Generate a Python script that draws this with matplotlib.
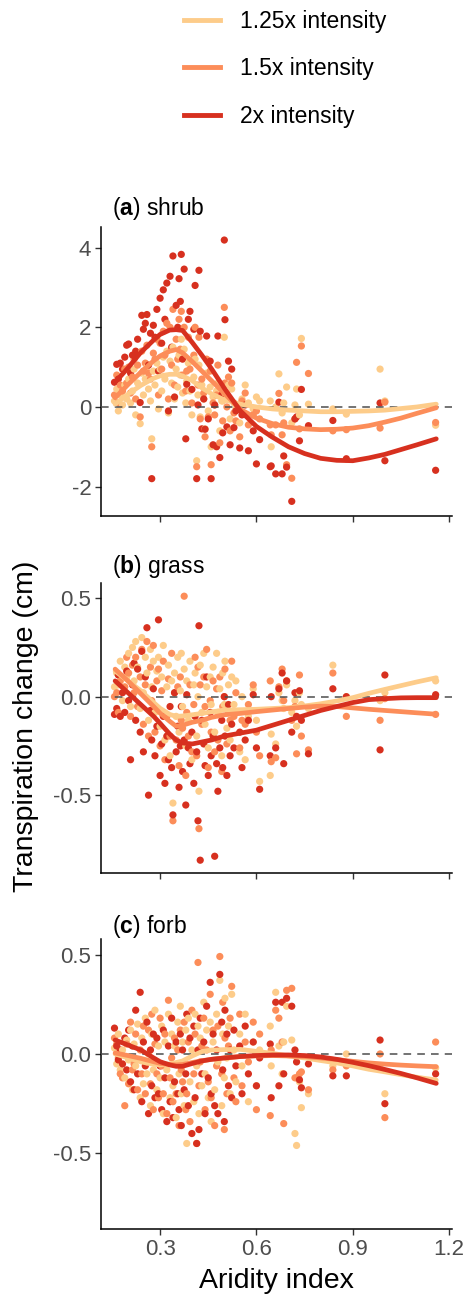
import numpy as np
import matplotlib
matplotlib.use("Agg")
import matplotlib.pyplot as plt
from matplotlib.lines import Line2D

plt.rcParams["font.family"] = "Liberation Sans"
plt.rcParams["mathtext.fontset"] = "custom"
plt.rcParams["mathtext.rm"] = "Liberation Sans"
plt.rcParams["mathtext.bf"] = "Liberation Sans:bold"

intensity_labels = ["1.25x intensity", "1.5x intensity", "2x intensity"]
intensity_colors = ["#FDCC8A", "#FC8D59", "#D7301F"]

# aridity index of each site (same sites in every panel)
site_ai = [
    0.158, 0.165, 0.170, 0.176, 0.183, 0.190, 0.196, 0.202, 0.208, 0.214,
    0.219, 0.224, 0.230, 0.238, 0.243, 0.248, 0.254, 0.259, 0.264, 0.270,
    0.274, 0.279, 0.284, 0.290, 0.295, 0.300, 0.305, 0.310, 0.315, 0.321,
    0.326, 0.331, 0.336, 0.340, 0.345, 0.350, 0.355, 0.359, 0.363, 0.366,
    0.370, 0.375, 0.380, 0.383, 0.388, 0.393, 0.399, 0.405, 0.409, 0.414,
    0.418, 0.421, 0.425, 0.430, 0.436, 0.440, 0.445, 0.450, 0.456, 0.459,
    0.465, 0.470, 0.476, 0.480, 0.486, 0.492, 0.495, 0.500, 0.502, 0.508,
    0.513, 0.518, 0.523, 0.530, 0.536, 0.548, 0.555, 0.565, 0.575, 0.590,
    0.600, 0.610, 0.643, 0.646, 0.660, 0.670, 0.680, 0.685, 0.694, 0.710,
    0.720, 0.725, 0.734, 0.740, 0.762, 0.838, 0.880, 0.985, 1.000, 1.158,
]

# transpiration change (cm), shrub
shrub_125 = [
    0.15, 0.45, -0.10, 0.30, 0.05, 0.55, 0.20, 0.70, 0.10, 0.40,
    0.95, -0.20, 0.60, -0.42, 0.85, 0.30, 0.70, 1.00, 0.45, 0.15,
    -0.80, 0.90, 0.55, 1.10, -0.05, 0.95, 0.40, 1.25, 0.70, 1.40,
    -0.15, 1.15, 0.60, 1.50, 0.20, 0.95, 0.50, 1.30, 0.80, 1.70,
    0.35, 1.45, 0.10, 0.65, 1.10, 0.40, -0.20, 0.75, 1.20, -1.35,
    0.30, 1.05, -0.25, 0.55, 0.20, -0.55, 0.85, -0.10, 0.50, -1.00,
    0.25, 0.05, 0.40, 0.60, -0.60, 0.15, 0.15, 1.75, 0.35, 0.20,
    0.55, -0.30, 0.45, 0.10, -0.05, -0.40, 0.20, 0.55, 0.10, -0.05,
    0.25, 0.15, 0.15, -1.00, 0.00, 0.83, -0.15, 0.10, 0.50, -0.40,
    0.05, 0.45, -0.20, 1.72, 0.07, -0.05, -0.18, 0.95, 0.15, -0.46,
]
shrub_15 = [
    0.30, 0.80, 0.10, 0.55, 0.40, 0.95, 0.60, 1.00, 0.35, 0.75,
    1.20, 0.20, 1.05, -0.25, 1.40, 0.90, 1.10, 1.55, 0.85, 0.70,
    -1.00, 1.35, 1.20, 1.70, 0.30, 1.60, 0.95, 1.90, 1.30, 2.10,
    0.20, 2.00, 1.05, 2.45, 0.55, 1.70, 1.20, 2.20, 1.45, 2.40,
    0.80, 2.00, 0.40, 0.90, 1.75, 0.95, 0.10, 1.30, 2.00, -1.50,
    0.55, 1.75, -0.30, 0.70, 0.35, -0.75, 1.20, -0.25, 0.90, -1.45,
    0.10, -0.20, 0.30, 1.05, -0.90, 0.25, -0.35, 2.50, 0.60, 0.00,
    0.75, -0.60, 0.60, -0.15, -0.35, -0.75, 0.15, 0.35, -0.45, -0.20,
    -0.10, -0.30, -0.45, -0.70, -0.45, 0.34, -0.70, -0.40, -1.45, -1.79,
    -0.30, 1.12, -0.55, 1.53, 0.84, -0.60, -0.57, -0.53, 0.12, -0.39,
]
shrub_2 = [
    0.62, 1.07, 0.70, 1.10, 0.95, 1.25, 1.55, 1.58, 0.85, 1.30,
    1.28, 1.40, 1.70, 0.11, 2.30, 1.95, 2.10, 2.32, 1.05, 1.85,
    -1.80, 2.05, 1.75, 2.45, 0.90, 2.73, 1.60, 2.94, 2.20, 3.11,
    -0.10, 3.28, 1.50, 3.79, 0.25, 2.55, 2.00, 3.22, 2.65, 3.83,
    1.20, 3.46, -0.80, 0.57, 2.20, 2.40, 0.44, 1.95, 3.05, -1.80,
    0.05, 3.43, 1.90, -0.55, 0.20, -0.56, 1.78, -0.30, 1.15, -1.80,
    -0.95, 0.05, -1.00, 1.78, -1.27, 0.30, -0.65, 4.19, 2.19, -0.50,
    1.15, -0.95, 0.95, -0.52, -0.10, -1.03, -0.20, 0.05, -1.10, -0.60,
    -1.43, -0.82, -1.50, -1.48, -1.68, 0.12, -1.68, -1.23, -1.51, -2.37,
    -0.30, -0.25, -0.85, 0.44, -0.47, -0.34, -1.30, 0.10, -1.35, -1.59,
]

# grass
grass_125 = [
    0.05, 0.12, 0.06, 0.18, -0.02, 0.15, 0.10, 0.22, -0.05, 0.25,
    0.08, 0.28, 0.15, -0.06, 0.30, 0.02, 0.20, 0.12, -0.12, 0.24,
    0.05, 0.18, -0.08, 0.13, 0.20, -0.15, 0.10, 0.26, -0.22, 0.05,
    0.16, -0.30, 0.08, -0.54, 0.12, -0.10, 0.20, -0.18, 0.03, 0.22,
    -0.05, 0.14, -0.25, 0.08, -0.12, 0.18, -0.32, 0.06, 0.12, -0.20,
    0.00, -0.48, 0.16, -0.08, 0.22, -0.14, 0.05, -0.26, 0.10, -0.04,
    0.15, -0.18, 0.22, -0.08, 0.04, -0.30, 0.12, -0.04, 0.18, -0.16,
    0.06, -0.22, 0.10, -0.04, 0.08, -0.28, 0.00, -0.32, -0.10, 0.04,
    -0.12, -0.43, -0.40, -0.19, -0.24, 0.02, -0.02, -0.06, 0.06, -0.08,
    -0.02, -0.15, 0.02, -0.04, -0.06, 0.16, 0.00, -0.02, 0.02, 0.08,
]
grass_15 = [
    0.00, 0.02, -0.08, 0.08, 0.10, 0.05, 0.20, 0.12, -0.10, 0.16,
    0.02, 0.20, -0.05, 0.10, 0.24, -0.14, 0.06, 0.28, -0.20, 0.15,
    -0.02, 0.26, -0.18, 0.08, 0.14, -0.25, 0.03, 0.18, -0.32, -0.10,
    0.09, -0.20, 0.22, -0.63, 0.02, -0.22, 0.05, -0.35, 0.10, -0.12,
    -0.16, 0.51, -0.40, -0.08, -0.20, 0.06, -0.28, -0.04, 0.20, -0.30,
    0.15, -0.67, 0.06, -0.14, 0.10, -0.05, 0.24, -0.36, -0.02, -0.18,
    0.08, -0.28, 0.04, -0.22, 0.10, -0.38, -0.05, 0.00, 0.14, -0.24,
    -0.08, -0.12, 0.18, -0.10, 0.02, -0.26, -0.12, -0.14, -0.04, 0.06,
    -0.18, -0.30, 0.08, -0.33, -0.31, 0.05, 0.14, -0.02, 0.08, -0.12,
    -0.05, -0.29, 0.11, -0.20, -0.27, 0.12, -0.10, -0.12, -0.01, -0.09,
]
grass_2 = [
    -0.09, -0.06, 0.11, -0.10, 0.02, -0.08, 0.13, -0.02, -0.32, 0.06,
    0.17, -0.12, 0.14, -0.18, 0.23, -0.28, 0.10, 0.35, -0.50, -0.07,
    -0.22, 0.04, -0.30, -0.15, 0.39, -0.40, -0.24, -0.10, -0.44, -0.20,
    -0.32, -0.05, -0.36, -0.60, 0.02, -0.28, -0.15, -0.46, -0.25, -0.05,
    -0.38, -0.22, -0.55, 0.01, -0.26, -0.34, -0.18, -0.44, -0.10, -0.28,
    -0.63, 0.36, -0.83, -0.12, -0.24, -0.35, 0.10, -0.40, -0.08, -0.30,
    -0.20, -0.81, -0.34, -0.48, -0.26, -0.12, -0.36, 0.00, -0.20, -0.40,
    -0.04, -0.30, -0.14, -0.26, -0.08, -0.18, -0.36, -0.22, -0.12, 0.01,
    -0.26, -0.47, -0.30, 0.00, -0.26, 0.04, 0.12, -0.34, 0.08, -0.18,
    0.02, -0.10, 0.03, -0.12, -0.29, 0.04, 0.00, -0.27, 0.11, 0.01,
]

# forb
forb_125 = [
    0.03, -0.05, 0.10, -0.08, 0.02, -0.12, 0.07, -0.03, 0.12, -0.18,
    0.05, -0.06, 0.15, -0.22, 0.08, -0.15, 0.18, -0.10, 0.00, -0.26,
    0.10, -0.08, 0.22, -0.18, 0.04, -0.12, 0.14, -0.30, 0.06, -0.08,
    0.20, -0.22, 0.10, -0.16, 0.04, -0.32, 0.16, -0.10, 0.24, -0.20,
    0.06, -0.26, 0.12, -0.45, 0.18, -0.14, 0.02, -0.24, 0.20, -0.06,
    0.14, -0.30, 0.08, -0.16, 0.26, -0.10, 0.12, -0.22, 0.16, -0.34,
    0.06, -0.18, 0.20, -0.04, 0.37, -0.26, 0.10, -0.12, 0.28, -0.02,
    0.14, -0.20, 0.30, 0.02, -0.14, 0.10, -0.06, 0.20, -0.24, 0.06,
    -0.16, 0.02, 0.14, -0.06, 0.31, 0.04, -0.10, 0.06, 0.24, 0.07,
    -0.40, -0.46, -0.14, -0.27, -0.20, -0.06, 0.00, -0.07, -0.20, -0.07,
]
forb_15 = [
    0.08, 0.05, -0.02, -0.10, -0.12, -0.26, 0.05, -0.15, 0.16, -0.08,
    -0.05, 0.10, -0.18, 0.02, -0.10, 0.14, -0.20, -0.04, 0.12, -0.15,
    0.20, -0.28, 0.05, -0.10, -0.22, 0.18, -0.06, -0.20, 0.10, -0.30,
    0.27, -0.12, -0.02, -0.24, 0.08, -0.20, 0.02, -0.36, 0.12, -0.08,
    -0.14, 0.16, -0.28, -0.20, 0.06, -0.34, 0.22, -0.10, 0.10, -0.45,
    0.46, -0.16, -0.04, 0.04, 0.18, -0.28, 0.02, -0.14, 0.30, -0.22,
    0.12, -0.36, -0.06, 0.14, 0.49, -0.10, 0.26, -0.38, 0.08, -0.20,
    0.04, 0.18, 0.34, -0.12, -0.24, 0.20, -0.16, 0.06, -0.04, 0.16,
    -0.28, 0.10, -0.31, 0.02, 0.22, 0.18, 0.06, -0.35, 0.32, 0.33,
    -0.12, -0.12, -0.10, -0.09, -0.18, -0.08, -0.06, 0.00, -0.32, 0.06,
]
forb_2 = [
    0.13, 0.04, -0.03, 0.02, -0.05, 0.08, -0.08, 0.12, -0.14, 0.04,
    -0.18, 0.22, -0.10, 0.31, -0.24, 0.06, -0.06, 0.16, -0.30, 0.02,
    -0.16, 0.10, -0.22, 0.08, -0.20, -0.06, -0.28, 0.12, -0.12, -0.34,
    0.04, -0.24, 0.18, -0.32, -0.14, 0.06, -0.20, -0.28, 0.10, -0.36,
    0.02, -0.18, -0.10, 0.20, -0.26, 0.08, -0.40, 0.14, -0.22, -0.45,
    0.02, -0.38, 0.18, -0.10, 0.06, -0.30, 0.24, -0.12, 0.36, -0.20,
    0.10, -0.26, 0.02, -0.30, 0.40, 0.16, -0.08, -0.34, 0.22, 0.10,
    -0.16, 0.02, -0.22, 0.12, -0.06, 0.04, -0.20, 0.14, -0.10, 0.06,
    -0.16, -0.02, 0.05, -0.22, 0.26, -0.16, 0.26, -0.10, 0.28, 0.24,
    0.02, -0.04, -0.13, -0.17, -0.05, -0.11, -0.11, 0.07, -0.25, -0.10,
]

# smoothed trends, evaluated on a common aridity grid
fit_ai = [0.16, 0.20, 0.24, 0.28, 0.30, 0.33, 0.35, 0.37, 0.40, 0.43, 0.46, 0.50, 0.55,
          0.60, 0.65, 0.70, 0.75, 0.80, 0.85, 0.90, 0.95, 1.00, 1.05, 1.10, 1.16]
shrub_fit_125 = [0.07, 0.32, 0.54, 0.72, 0.78, 0.82, 0.82, 0.78, 0.66, 0.48, 0.33, 0.18, 0.07,
                 0.00, -0.05, -0.08, -0.10, -0.12, -0.12, -0.11, -0.10, -0.08, -0.04, 0.00, 0.07]
shrub_fit_15 = [0.23, 0.56, 0.87, 1.16, 1.28, 1.40, 1.44, 1.36, 1.14, 0.90, 0.66, 0.34, -0.06,
                -0.28, -0.42, -0.51, -0.55, -0.57, -0.56, -0.53, -0.47, -0.38, -0.28, -0.16, -0.02]
shrub_fit_2 = [0.62, 0.98, 1.37, 1.68, 1.82, 1.93, 1.94, 1.92, 1.62, 1.30, 0.96, 0.47, -0.10,
               -0.49, -0.76, -1.00, -1.17, -1.29, -1.34, -1.35, -1.28, -1.19, -1.07, -0.95, -0.80]
grass_fit_125 = [0.13, 0.08, 0.03, -0.03, -0.059, -0.09, -0.10, -0.098, -0.092, -0.085, -0.077,
                 -0.068, -0.066, -0.064, -0.06, -0.056, -0.047, -0.036, -0.022, -0.005, 0.017,
                 0.037, 0.056, 0.075, 0.096]
grass_fit_15 = [0.14, 0.08, 0.015, -0.05, -0.084, -0.125, -0.15, -0.145, -0.13, -0.12, -0.105,
                -0.092, -0.085, -0.076, -0.068, -0.06, -0.053, -0.048, -0.05, -0.057, -0.064,
                -0.07, -0.076, -0.082, -0.089]
grass_fit_2 = [0.08, 0.02, -0.04, -0.10, -0.135, -0.19, -0.22, -0.235, -0.24, -0.23, -0.22,
               -0.20, -0.185, -0.17, -0.145, -0.12, -0.095, -0.07, -0.05, -0.03, -0.015,
               -0.01, -0.006, -0.005, -0.005]
forb_fit_125 = [0.0, -0.02, -0.04, -0.052, -0.055, -0.05, -0.043, -0.035, -0.01, 0.012, 0.02,
                0.022, 0.023, 0.013, 0.003, -0.01, -0.02, -0.033, -0.045, -0.06, -0.077, -0.09,
                -0.104, -0.117, -0.131]
forb_fit_15 = [0.005, -0.008, -0.022, -0.039, -0.047, -0.053, -0.055, -0.053, -0.043, -0.034,
               -0.027, -0.02, -0.013, -0.01, -0.008, -0.01, -0.013, -0.02, -0.028, -0.037,
               -0.045, -0.051, -0.056, -0.06, -0.064]
forb_fit_2 = [0.07, 0.045, 0.02, -0.02, -0.039, -0.055, -0.062, -0.062, -0.048, -0.035, -0.027,
              -0.02, -0.013, -0.008, -0.005, -0.005, -0.008, -0.015, -0.027, -0.042, -0.059,
              -0.078, -0.098, -0.12, -0.148]

W, H = 467, 1299


def rect(left, top, right, bottom):
    # pixel box -> figure fraction
    return [left / W, 1 - bottom / H, (right - left) / W, (bottom - top) / H]


panels = [
    ("a", "shrub", [shrub_125, shrub_15, shrub_2], [shrub_fit_125, shrub_fit_15, shrub_fit_2],
     (-2.73, 4.53), [-2, 0, 2, 4], ["-2", "0", "2", "4"], rect(101, 226.5, 452, 515.7), 208),
    ("b", "grass", [grass_125, grass_15, grass_2], [grass_fit_125, grass_fit_15, grass_fit_2],
     (-0.895, 0.578), [-0.5, 0.0, 0.5], ["-0.5", "0.0", "0.5"], rect(101, 582.8, 452, 873), 567),
    ("c", "forb", [forb_125, forb_15, forb_2], [forb_fit_125, forb_fit_15, forb_fit_2],
     (-0.88, 0.578), [-0.5, 0.0, 0.5], ["-0.5", "0.0", "0.5"], rect(101, 939, 452, 1229), 926),
]

fig = plt.figure(figsize=(W / 100, H / 100), dpi=100)

for k, (letter, name, pts, fits, ylim, yticks, ylabels, box, title_y) in enumerate(panels):
    ax = fig.add_axes(box)
    xs = np.repeat(site_ai, 3)
    ys = np.column_stack(pts).ravel()
    cs = np.tile(intensity_colors, len(site_ai))
    ax.scatter(xs, ys, s=27, c=cs, linewidths=0, zorder=2)
    ax.axhline(0, color="#4d4d4d", lw=1.1, ls=(0, (5, 4)), zorder=3)
    for f, col, lab in zip(fits, intensity_colors, intensity_labels):
        ax.plot(fit_ai, f, color=col, lw=3.4, solid_capstyle="round", label=lab, zorder=4)

    ax.set_xlim(0.116, 1.209)
    ax.set_ylim(*ylim)
    ax.set_xticks([0.3, 0.6, 0.9, 1.2])
    ax.set_yticks(yticks)
    ax.set_yticklabels(ylabels)
    if k < 2:
        ax.set_xticklabels([])
    else:
        ax.set_xticklabels(["0.3", "0.6", "0.9", "1.2"])

    for side in ["top", "right"]:
        ax.spines[side].set_visible(False)
    for side in ["left", "bottom"]:
        ax.spines[side].set_linewidth(1.1)
        ax.spines[side].set_color("black")
    ax.tick_params(length=4, width=1.0, color="#333333", labelcolor="#4d4d4d",
                   labelsize=16, pad=3)

    fig.text(112 / W, 1 - title_y / H, r"($\mathbf{%s}$) %s" % (letter, name),
             ha="left", va="center", fontsize=16.5)

handles = [Line2D([], [], color=c, lw=3.5) for c in intensity_colors]
fig.legend(handles, intensity_labels, loc="center", bbox_to_anchor=(285 / W, 1 - 69 / H),
           frameon=False, fontsize=16.5, handlelength=1.6, handletextpad=0.85,
           labelspacing=1.05, borderpad=0)

fig.text(26 / W, 1 - 726 / H, "Transpiration change (cm)", rotation=90, fontsize=20.5,
         ha="center", va="center")
fig.text(276 / W, 1 - 1281 / H, "Aridity index", fontsize=20.5, ha="center", va="center")

fig.savefig("out.png", dpi=100)
